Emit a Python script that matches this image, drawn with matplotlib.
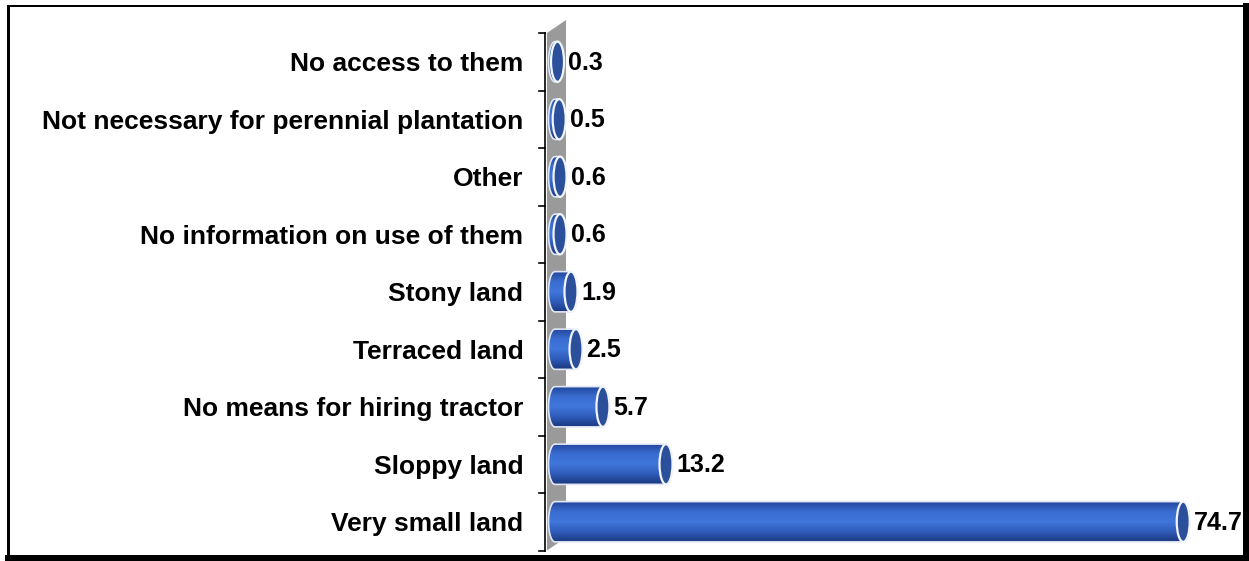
import numpy as np
import matplotlib
matplotlib.use("Agg")
import matplotlib.pyplot as plt
from matplotlib.patches import PathPatch, Ellipse, Polygon
from matplotlib.path import Path
from matplotlib.colors import LinearSegmentedColormap
from matplotlib.lines import Line2D

categories = [
    "No access to them",
    "Not necessary for perennial plantation",
    "Other",
    "No information on use of them",
    "Stony land",
    "Terraced land",
    "No means for hiring tractor",
    "Sloppy land",
    "Very small land",
]
values = [0.3, 0.5, 0.6, 0.6, 1.9, 2.5, 5.7, 13.2, 74.7]

plt.rcParams["font.family"] = ["Liberation Sans", "DejaVu Sans"]

W, H = 1249, 561
fig = plt.figure(figsize=(W / 100, H / 100), dpi=100)

# axes placed in pixels: data 0 at x=555, 8.41 px per unit
x0_px, px_per = 555, 8.41
left_px = 536
top_px, bot_px = 33, 550.5
ax_w_px = 1243 - left_px
ax = fig.add_axes([left_px / W, (H - bot_px) / H, ax_w_px / W, (bot_px - top_px) / H])
xmin = (left_px - x0_px) / px_per
xmax = (1243 - x0_px) / px_per

cmap = LinearSegmentedColormap.from_list(
    "cyl", ["#22449a", "#3a6cd0", "#4077da", "#2f5cba", "#1c3a80"])
grad = np.linspace(0, 1, 64).reshape(-1, 1)

a = 6.5 / px_per   # half width of the end ellipses (data units)
h = 0.70           # bar thickness

# grey wall behind the bars
wx0, wx1 = (547 - x0_px) / px_per, (566 - x0_px) / px_per
wall = Polygon([(wx0, -0.5), (wx1, -0.5 - 13 / 57.5), (wx1, 8.5 - 13 / 57.5), (wx0, 8.5)],
               closed=True, facecolor="#9a9a9a", edgecolor="none", clip_on=False, zorder=1)
ax.add_patch(wall)

for i, v in enumerate(values):
    yt, yb = i - h / 2, i + h / 2
    t = np.linspace(0, np.pi, 40)
    arc = np.column_stack([-a * np.sin(t), i + (h / 2) * np.cos(t)])
    verts = np.vstack([[[0, yt], [v, yt], [v, yb]], arc, [[0, yt]]])
    body = PathPatch(Path(verts), facecolor="none", edgecolor="#dfe6f5", lw=1.2, zorder=3)
    ax.add_patch(body)
    im = ax.imshow(grad, cmap=cmap, aspect="auto", extent=(-a, v, yb, yt),
                   origin="upper", zorder=2, interpolation="bilinear")
    im.set_clip_path(body)
    cap = Ellipse((v, i), 2 * a, h, facecolor="#2b4f9a", edgecolor="#f2f5fb", lw=1.6, zorder=4)
    ax.add_patch(cap)
    ax.text(v + a + 4 / px_per, i + 0.02, f"{v}", va="center", ha="left",
            fontsize=18, fontweight="bold", color="black", zorder=5)

ax.set_xlim(xmin, xmax)
ax.set_ylim(8.5, -0.5)
ax.set_yticks(range(len(categories)))
ax.set_yticklabels(categories, fontsize=19, fontweight="bold")
ax.tick_params(axis="y", length=0, pad=9)
ax.set_xticks([])
for s in ax.spines.values():
    s.set_visible(False)

# axis line with ticks at category boundaries
axx = (545 - x0_px) / px_per
tkx = (539 - x0_px) / px_per
ax.plot([axx, axx], [-0.5, 8.5], color="black", lw=1.2, clip_on=False, zorder=6)
for b in np.arange(-0.5, 9.0, 1.0):
    ax.plot([tkx, axx], [b, b], color="black", lw=1.2, clip_on=False, zorder=6)

# outer frame
def fline(x1, y1, x2, y2, w):
    fig.add_artist(Line2D([x1 / W, x2 / W], [1 - y1 / H, 1 - y2 / H],
                          color="black", lw=w * 0.72, transform=fig.transFigure,
                          solid_capstyle="projecting"))

fline(8, 5.5, 1246, 5.5, 2)
fline(8, 5.5, 8, 558, 3)
fline(1246, 5.5, 1246, 558, 6)
fline(8, 558, 1246, 558, 6)

fig.savefig("out.png", dpi=100)
